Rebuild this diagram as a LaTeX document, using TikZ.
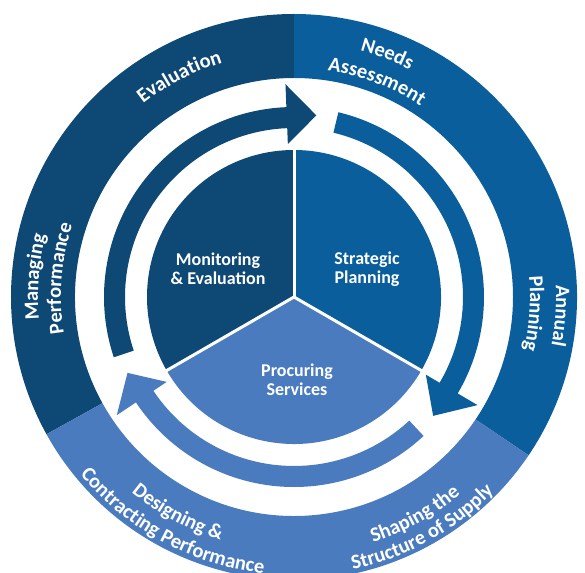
\documentclass[tikz,border=0pt]{standalone}
\usepackage{fontspec}
\setmainfont{Carlito}
\usetikzlibrary{decorations.text}
\definecolor{cdark}{HTML}{0E4874}
\definecolor{cmed}{HTML}{0B5E9C}
\definecolor{clight}{HTML}{4A7BBF}
\newcommand\ringtxt{\color{white}\bfseries\fontsize{20.5}{24}\selectfont}
\newcommand\cyclearrow[4]{%
  \fill[#4] (#1:190pt) arc[start angle=#1, end angle=#2, radius=190pt]
    -- (#2:213pt) -- (#3:183pt) -- (#2:153pt) -- (#2:169pt)
    arc[start angle=#2, end angle=#1, radius=169pt] -- cycle;}
\tikzset{
  ringlabel/.style={decorate, decoration={text along path, text align=center, text={#1}}},
  innerlabel/.style={text=white, font=\bfseries\fontsize{18}{19.5}\selectfont, align=center},
  sepline/.style={white, line width=3pt},
}
\begin{document}
\begin{tikzpicture}
\useasboundingbox (-294pt,-275pt) rectangle (291pt,297pt);
% outer ring segments
\fill[cdark] (90:219pt) -- (90:283pt) arc[start angle=90,end angle=209,radius=283pt]
  -- (209:219pt) arc[start angle=209,end angle=90,radius=219pt] -- cycle;
\fill[cmed] (-34:219pt) -- (-34:283pt) arc[start angle=-34,end angle=90,radius=283pt]
  -- (90:219pt) arc[start angle=90,end angle=-34,radius=219pt] -- cycle;
\fill[clight] (209:219pt) -- (209:283pt) arc[start angle=209,end angle=326,radius=283pt]
  -- (326:219pt) arc[start angle=326,end angle=209,radius=219pt] -- cycle;
% pie
\fill[cdark] (0,0) -- (90:147pt) arc[start angle=90,end angle=210,radius=147pt] -- cycle;
\fill[cmed] (0,0) -- (-30:147pt) arc[start angle=-30,end angle=90,radius=147pt] -- cycle;
\fill[clight] (0,0) -- (210:147pt) arc[start angle=210,end angle=330,radius=147pt] -- cycle;
\coordinate (O) at (0,0);
\coordinate (p1) at (90:148pt);
\coordinate (p2) at (210:148pt);
\coordinate (p3) at (330:148pt);
\draw[sepline] (O) -- (p1);
\draw[sepline] (O) -- (p2);
\draw[sepline] (O) -- (p3);
% cycle arrows
\cyclearrow{198.5}{92.3}{83}{cdark}
\cyclearrow{76.5}{-30.5}{-40.5}{cmed}
\cyclearrow{-47}{-146.3}{-155.5}{clight}
% inner labels
\node[innerlabel] (me) at (-76pt,28pt) {Monitoring\\\& Evaluation};
\node[innerlabel] (sp) at (73pt,28pt) {Strategic\\Planning};
\node[innerlabel] (ps) at (3pt,-83pt) {Procuring\\Services};
% ring labels (clockwise, tops outward)
\path[ringlabel={|\ringtxt|Evaluation}] (157.5:245pt) arc[start angle=157.5,end angle=77.5,radius=245pt];
\path[ringlabel={|\ringtxt|Needs}] (109:255pt) arc[start angle=109,end angle=29,radius=255pt];
\path[ringlabel={|\ringtxt|Assessment}] (109:229pt) arc[start angle=109,end angle=29,radius=229pt];
\path[ringlabel={|\ringtxt|Annual}] (36:262pt) arc[start angle=36,end angle=-44,radius=262pt];
\path[ringlabel={|\ringtxt|Planning}] (36:236pt) arc[start angle=36,end angle=-44,radius=236pt];
\path[ringlabel={|\ringtxt|Managing}] (215.5:256pt) arc[start angle=215.5,end angle=135.5,radius=256pt];
\path[ringlabel={|\ringtxt|Performance}] (215.5:233pt) arc[start angle=215.5,end angle=135.5,radius=233pt];
% ring labels (counterclockwise, tops inward)
\path[ringlabel={|\ringtxt|Shaping the}] (-101:258pt) arc[start angle=-101,end angle=-21,radius=258pt];
\path[ringlabel={|\ringtxt|Structure of Supply}] (-101:279pt) arc[start angle=-101,end angle=-21,radius=279pt];
\path[ringlabel={|\ringtxt|Designing {\&}}] (201.7:254pt) arc[start angle=201.7,end angle=281.7,radius=254pt];
\path[ringlabel={|\ringtxt|Contracting Performance}] (201.7:278pt) arc[start angle=201.7,end angle=281.7,radius=278pt];
\end{tikzpicture}
\end{document}
